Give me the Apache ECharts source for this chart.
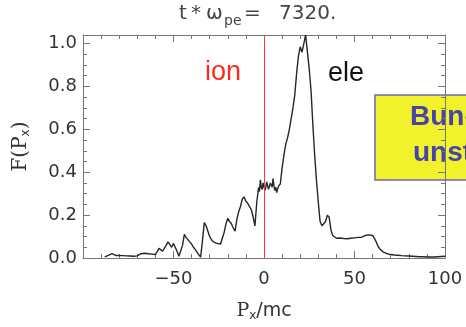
<!DOCTYPE html>
<html><head><meta charset="utf-8">
<script src="https://cdn.jsdelivr.net/npm/echarts@6/dist/echarts.min.js"></script>
<style>html,body{margin:0;padding:0;background:#fff}#c{width:466px;height:327px}</style>
</head><body><div id="c"></div>
<script>
// momentum P_x/mc
var px = [-88,-87,-86,-85,-84,-83,-82,-81,-80,-79,-78,-77,-76,-75,-74,-73,-72,-71,-70,-69,-68,-67,-66,-65,-64,-63,-62,-61,-60,-59,-58,-57,-56,-55,-54,-53,-52,-51,-50,-49,-48,-47,-46,-45,-44,-43,-42,-41,-40,-39,-38,-37,-36,-35,-34,-33,-32,-31,-30,-29,-28,-27,-26,-25,-24,-23,-22,-21,-20,-19,-18,-17,-16,-15,-14,-13,-12,-11,-10,-9,-8,-7,-6,-5,-4,-3,-2.5,-2,-1.5,-1,-0.5,0,0.5,1,1.5,2,2.5,3,3.5,4,4.5,5,5.5,6,6.5,7,7.5,8,9,10,11,12,13,14,15,16,17,18,19,20,21,22,23,24,25,26,27,28,29,30,31,32,33,34,35,36,37,38,39,40,41,42,43,44,45,46,47,48,49,50,51,52,53,54,55,56,57,58,59,60,61,62,63,64,65,66,67,68,69,70,72,74,76,78,80,82,84,86,88,90,92,94,96,98,100];
// distribution F(P_x)
var fx = [0.005,0.008,0.012,0.018,0.020,0.016,0.012,0.010,0.012,0.009,0.011,0.008,0.010,0.012,0.009,0.011,0.008,0.012,0.010,0.015,0.020,0.028,0.022,0.026,0.020,0.024,0.018,0.022,0.016,0.030,0.045,0.040,0.032,0.035,0.060,0.075,0.062,0.050,0.068,0.060,0.030,0.008,0.005,0.060,0.110,0.095,0.088,0.075,0.065,0.050,0.040,0.032,0.015,0.004,0.080,0.165,0.150,0.125,0.100,0.085,0.075,0.070,0.068,0.072,0.065,0.062,0.120,0.160,0.185,0.170,0.160,0.140,0.125,0.180,0.215,0.240,0.275,0.285,0.265,0.255,0.240,0.225,0.190,0.150,0.260,0.330,0.310,0.365,0.330,0.320,0.350,0.345,0.315,0.330,0.355,0.360,0.320,0.325,0.350,0.340,0.330,0.370,0.335,0.315,0.330,0.305,0.320,0.335,0.345,0.420,0.480,0.530,0.560,0.600,0.650,0.700,0.760,0.860,0.940,0.985,0.960,1.000,1.040,0.960,0.880,0.780,0.620,0.480,0.360,0.260,0.170,0.150,0.160,0.170,0.200,0.190,0.130,0.105,0.100,0.092,0.090,0.093,0.088,0.091,0.087,0.090,0.088,0.092,0.089,0.094,0.090,0.096,0.100,0.097,0.102,0.105,0.110,0.108,0.112,0.105,0.092,0.075,0.055,0.042,0.033,0.027,0.023,0.020,0.018,0.016,0.014,0.013,0.011,0.010,0.009,0.008,0.007,0.006,0.006,0.005,0.005,0.005,0.006,0.007,0.008];
var titleText = ['t', '*', '\u03c9', 'pe', '=', '7320.'];
var xTickLabels = {'-50':'\u221250','0':'0','50':'50','100':'100'};

var data = px.map(function(p,i){return [p, fx[i]];});
var axCol = '#777';
var lblFont = {color:'#333', fontFamily:'DejaVu Sans', fontSize:18};
function mkX(pos, show){
  return {type:'value', position:pos, min:-100, max:100, interval:50,
    axisLine:{show:true, onZero:false, lineStyle:{color:axCol,width:1}},
    axisTick:{show:true, inside:true, length:7, lineStyle:{color:axCol}},
    minorTick:{show:true, splitNumber:5, length:4, lineStyle:{color:axCol}},
    splitLine:{show:false}, minorSplitLine:{show:false},
    axisLabel:Object.assign({show:show, margin:12, showMinLabel:false,
      formatter:function(v){return xTickLabels[String(v)]!==undefined?xTickLabels[String(v)]:'';}}, lblFont),
    name: show ? '{s|P}{sub|x}{s2|/mc}' : '', nameLocation:'middle', nameGap:42,
    nameTextStyle:{rich:{s:{fontFamily:'DejaVu Serif',fontSize:19,color:'#333'},
      sub:{fontFamily:'DejaVu Sans',fontSize:12,color:'#333',padding:[10,0,0,0]},
      s2:{fontFamily:'DejaVu Sans',fontSize:19,color:'#333'}}}
  };
}
function mkY(pos, show){
  return {type:'value', position:pos, min:0, max:1.04, interval:0.2,
    axisLine:{show:true, onZero:false, lineStyle:{color:axCol,width:1}},
    axisTick:{show:true, inside:true, length:7, lineStyle:{color:axCol}},
    minorTick:{show:true, splitNumber:4, length:4, lineStyle:{color:axCol}},
    splitLine:{show:false}, minorSplitLine:{show:false},
    axisLabel:Object.assign({show:show, margin:6, showMaxLabel:false,
      formatter:function(v){return v>1.01?'':v.toFixed(1);}}, lblFont),
    name: show ? '{s|F(P}{sub|x}{s|)}' : '', nameLocation:'middle', nameGap:51, nameRotate:90,
    nameTextStyle:{rich:{s:{fontFamily:'DejaVu Serif',fontSize:20,color:'#333'},
      sub:{fontFamily:'DejaVu Sans',fontSize:12,color:'#333',padding:[10,0,0,0]}}}
  };
}
var chart = echarts.init(document.getElementById('c'), null, {renderer:'canvas'});
var tf = '20px DejaVu Sans', tc = '#444';
chart.setOption({
  backgroundColor:'#fff',
  animation:false,
  grid:{left:83, right:21, top:35, bottom:64},
  xAxis:[mkX('bottom', true), mkX('top', false)],
  yAxis:[mkY('left', true), mkY('right', false)],
  series:[{type:'line', data:data, showSymbol:false, xAxisIndex:0, yAxisIndex:0,
    lineStyle:{color:'#262626', width:1.4},
    markLine:{silent:true, symbol:'none', label:{show:false},
      lineStyle:{color:'#ff3838', width:1, type:'solid'},
      data:[{xAxis:0}]}
  }],
  graphic:[
    {type:'text', left:179, top:4, style:{text:titleText[0], font:tf, fill:tc}},
    {type:'text', left:191, top:4, style:{text:titleText[1], font:tf, fill:tc}},
    {type:'text', left:206, top:4, style:{text:titleText[2], font:tf, fill:tc}},
    {type:'text', left:224, top:14, style:{text:titleText[3], font:'14px DejaVu Sans', fill:tc}},
    {type:'text', left:244, top:4, style:{text:titleText[4], font:tf, fill:tc}},
    {type:'text', left:279, top:4, style:{text:titleText[5], font:tf, fill:tc}},
    {type:'text', left:205, top:59, style:{text:'ion', font:'27px Liberation Sans', fill:'#ff2a1a'}},
    {type:'text', left:328, top:60, style:{text:'ele', font:'27px Liberation Sans', fill:'#111'}},
    {type:'rect', shape:{x:375, y:95, width:200, height:85}, style:{fill:'#f2f22c', stroke:'#6a6ab0', lineWidth:1.5}},
    {type:'text', left:410, top:103, style:{text:'Buneman', font:'bold 28px Liberation Sans', fill:'#4646a8'}},
    {type:'text', left:413, top:139, style:{text:'unstable', font:'bold 28px Liberation Sans', fill:'#4646a8'}}
  ]
});
</script></body></html>
